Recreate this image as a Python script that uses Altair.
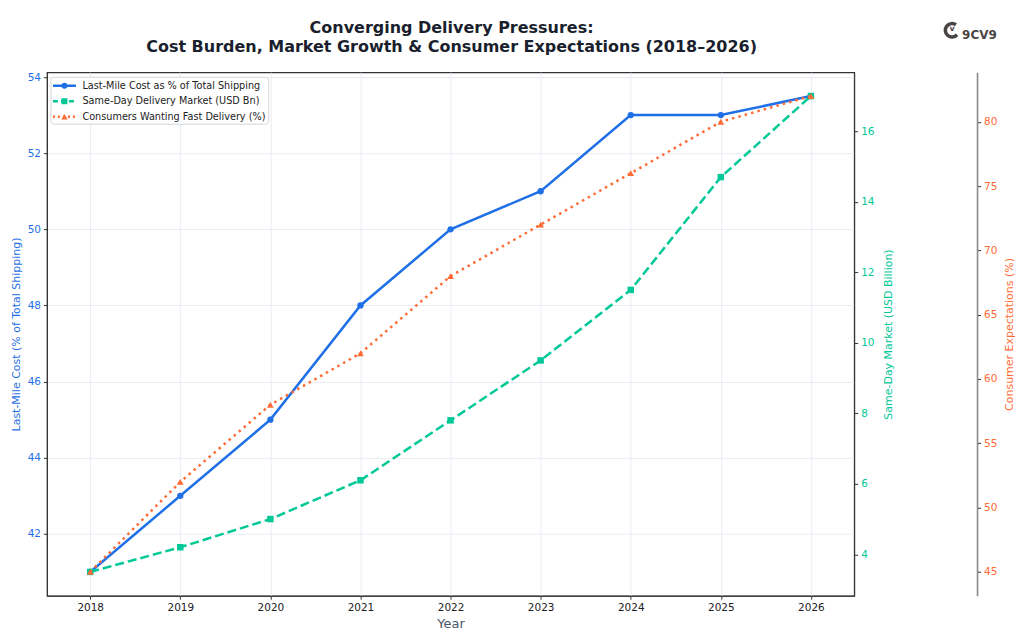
import altair as alt
import pandas as pd

# ---------------- data ----------------
years = [2018, 2019, 2020, 2021, 2022, 2023, 2024, 2025, 2026]
last_mile_pct = [41.0, 43.0, 45.0, 48.0, 50.0, 51.0, 53.0, 53.0, 53.5]
same_day_bn = [3.5, 4.2, 5.0, 6.1, 7.8, 9.5, 11.5, 14.7, 17.0]
consumers_pct = [45, 52, 58, 62, 68, 72, 76, 80, 82]

left_ticks = [42, 44, 46, 48, 50, 52, 54]
mid_ticks = [4, 6, 8, 10, 12, 14, 16]
right_ticks = [45, 50, 55, 60, 65, 70, 75, 80]

series_labels = [
    "Last-Mile Cost as % of Total Shipping",
    "Same-Day Delivery Market (USD Bn)",
    "Consumers Wanting Fast Delivery (%)",
]
title_lines = [
    "Converging Delivery Pressures:",
    "Cost Burden, Market Growth & Consumer Expectations (2018\u20132026)",
]
logo_text = "9CV9"

# ---------------- styles ----------------
BLUE = "#1f70e6"
GREEN = "#00c896"
ORANGE = "#ff6b35"
FRAME = "#333333"
GRID = "#e8ecf3"
FONT = "DejaVu Sans"


def pad_domain(vals, frac=0.05):
    lo, hi = min(vals), max(vals)
    m = (hi - lo) * frac
    return [lo - m, hi + m]


df = pd.DataFrame({
    "Year": years,
    "LastMile": last_mile_pct,
    "SameDay": same_day_bn,
    "Consumers": consumers_pct,
})

x_enc = alt.X(
    "Year:Q",
    scale=alt.Scale(domain=[2017.52, 2026.48], nice=False, zero=False),
    axis=alt.Axis(
        values=years, format="d", title="Year", grid=True, gridColor=GRID,
        labelFontSize=10.5, labelColor="#222222", titleFontSize=13,
        titleColor="#4a5568", titleFontWeight="normal", titlePadding=5,
        tickSize=3.5, tickColor=FRAME, domainColor=FRAME, labelPadding=3,
    ),
)

base = alt.Chart(df)

blue = base.mark_line(
    color=BLUE, strokeWidth=2.5,
    point=alt.OverlayMarkDef(filled=True, color=BLUE, size=40, shape="circle", opacity=1),
).encode(
    x=x_enc,
    y=alt.Y(
        "LastMile:Q",
        scale=alt.Scale(domain=pad_domain(last_mile_pct), nice=False, zero=False),
        axis=alt.Axis(
            orient="left", values=left_ticks, title="Last-Mile Cost (% of Total Shipping)",
            grid=True, gridColor=GRID, labelColor=BLUE, titleColor=BLUE,
            labelFontSize=10.5, titleFontSize=11, titleFontWeight="normal",
            tickSize=3.5, tickColor=FRAME, domainColor=FRAME, titlePadding=6,
            labelPadding=3,
        ),
    ),
)

green = base.mark_line(
    color=GREEN, strokeWidth=2.5, strokeDash=[9, 4],
    point=alt.OverlayMarkDef(filled=True, color=GREEN, size=42, shape="square", opacity=1),
).encode(
    x=x_enc,
    y=alt.Y(
        "SameDay:Q",
        scale=alt.Scale(domain=pad_domain(same_day_bn), nice=False, zero=False),
        axis=alt.Axis(
            orient="right", values=mid_ticks, title="Same-Day Market (USD Billion)",
            grid=False, labelColor=GREEN, titleColor=GREEN,
            labelFontSize=10.5, titleFontSize=11, titleFontWeight="normal",
            titleAngle=270, titleBaseline="bottom",
            tickSize=3.5, tickColor=FRAME, domainColor=FRAME, titlePadding=20,
            labelPadding=3,
        ),
    ),
)

orange = base.mark_line(
    color=ORANGE, strokeWidth=2.5, strokeDash=[2.5, 4.1],
    point=alt.OverlayMarkDef(filled=True, color=ORANGE, size=45, shape="triangle-up", opacity=1),
).encode(
    x=x_enc,
    y=alt.Y(
        "Consumers:Q",
        scale=alt.Scale(domain=pad_domain(consumers_pct), nice=False, zero=False),
        axis=alt.Axis(
            orient="right", offset=123, values=right_ticks,
            title="Consumer Expectations (%)",
            grid=False, labelColor=ORANGE, titleColor=ORANGE,
            labelFontSize=10.5, titleFontSize=11, titleFontWeight="normal",
            titleAngle=270, titleBaseline="bottom",
            tickSize=3.5, tickColor=FRAME, domainColor="#888888", domainWidth=1.6,
            titlePadding=18, labelPadding=3,
        ),
    ),
)

# ---------------- legend (manual, top-left inside plot) ----------------
legend_layers = []
box_df = pd.DataFrame({"k": [0]})
legend_layers.append(
    alt.Chart(box_df).mark_rect(
        fill="white", fillOpacity=0.85, stroke="#d5d5d5", strokeWidth=1, cornerRadius=3
    ).encode(x=alt.value(4), x2=alt.value(222), y=alt.value(5), y2=alt.value(52))
)
leg_colors = [BLUE, GREEN, ORANGE]
leg_dash = [[1, 0], [5, 3], [2, 3]]
leg_shapes = ["circle", "square", "triangle-up"]
leg_sizes = [34, 36, 40]
for i, lab in enumerate(series_labels):
    ry = 13.5 + i * 15.5
    ldf = pd.DataFrame({"label": [lab]})
    lc = alt.Chart(ldf)
    legend_layers.append(
        lc.mark_rule(color=leg_colors[i], strokeWidth=2.5, strokeDash=leg_dash[i]).encode(
            x=alt.value(6), x2=alt.value(29), y=alt.value(ry)
        )
    )
    legend_layers.append(
        lc.mark_point(shape=leg_shapes[i], filled=True, size=leg_sizes[i],
                      color=leg_colors[i], opacity=1).encode(
            x=alt.value(17.5), y=alt.value(ry)
        )
    )
    legend_layers.append(
        lc.mark_text(align="left", baseline="middle", fontSize=9.7, color="#222222",
                     font=FONT).encode(
            x=alt.value(35.5), y=alt.value(ry), text="label:N"
        )
    )

# ---------------- title (as text marks above the plot) ----------------
title_layers = []
for i, line in enumerate(title_lines):
    tdf = pd.DataFrame({"t": [line]})
    title_layers.append(
        alt.Chart(tdf).mark_text(
            fontSize=16, fontWeight="bold", color="#1a1f2e", font=FONT,
            align="center", baseline="middle",
        ).encode(x=alt.value(405), y=alt.value(-44 + i * 18.5), text="t:N")
    )

# ---------------- logo ----------------
logo_df = pd.DataFrame({"t": [logo_text]})
logo_c = alt.Chart(logo_df)
logo_layers = [
    logo_c.mark_arc(radius=8.5, radius2=5, theta=2.3, theta2=6.9, color="#4a4545").encode(
        x=alt.value(906), y=alt.value(-42)
    ),
    logo_c.mark_text(text="v", fontSize=8, fontWeight="bold", color="#4a4545",
                     align="center", baseline="middle", font=FONT).encode(
        x=alt.value(906), y=alt.value(-43)
    ),
    logo_c.mark_text(fontSize=12, fontWeight="bold", color="#4a4545", align="left",
                     baseline="middle", font=FONT).encode(
        x=alt.value(916), y=alt.value(-37), text="t:N"
    ),
]

chart = alt.layer(
    blue, green, orange, *legend_layers, *title_layers, *logo_layers
).resolve_scale(
    y="independent"
).properties(
    width=808,
    height=524,
    autosize=alt.AutoSizeParams(type="none"),
    padding={"left": 39, "top": 64, "right": 162, "bottom": 36},
).configure(
    font=FONT,
    background="white",
).configure_view(
    stroke=FRAME, strokeWidth=1.2,
).configure_axis(
    labelFont=FONT, titleFont=FONT,
)

chart.save("out.html", embed_options={"renderer": "svg", "actions": False})
